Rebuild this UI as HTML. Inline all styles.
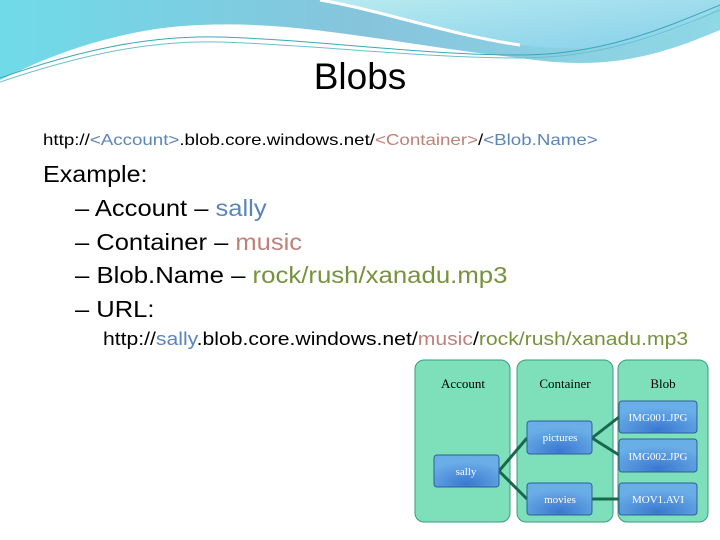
<!DOCTYPE html>
<html><head><meta charset="utf-8"><style>
body{margin:0;width:720px;height:540px;overflow:hidden;background:#fff;font-family:"Liberation Sans",sans-serif;position:relative}
.t{position:absolute;white-space:nowrap;color:#000;transform-origin:0 50%}
.b{color:#5b85bb}.r{color:#c0807a}.g{color:#77923c}
</style></head><body>
<svg width="720" height="540" style="position:absolute;left:0;top:0">
<defs>
<linearGradient id="w1" x1="0" y1="0" x2="1" y2="0"><stop offset="0" stop-color="#6fdbe8"/><stop offset="0.5" stop-color="#86c4dc"/><stop offset="1" stop-color="#8fd8e6"/></linearGradient>
<linearGradient id="w2" x1="0" y1="0" x2="1" y2="1"><stop offset="0" stop-color="#b8eaf0"/><stop offset="1" stop-color="#86d0ea"/></linearGradient>
<radialGradient id="bx" cx="0.5" cy="0.9" r="0.7"><stop offset="0" stop-color="#3a78d0"/><stop offset="1" stop-color="#6aaee8"/></radialGradient>
</defs>
<path d="M0,0 H720 V30 C650,60 600,70 520,58 C400,45 300,20 200,25 C120,28 50,55 0,80 Z" fill="url(#w1)"/>
<path d="M320,0 H720 V5 C680,40 600,55 520,45 C450,35 380,10 320,0 Z" fill="url(#w2)"/>
<path d="M320,0 C380,10 450,35 520,45" stroke="#fff" stroke-width="3" fill="none"/>
<path d="M0,78 C80,50 150,35 220,37 C320,40 420,55 520,55 C600,55 660,30 720,5" stroke="#3aa8b8" stroke-width="1" fill="none"/>
<path d="M0,82 C80,55 150,40 220,42 C320,45 420,58 520,58 C600,58 660,35 720,10" stroke="#6cc0cc" stroke-width="1" fill="none"/>
<g fill="#7ee0bb" stroke="#3a9a7c" stroke-width="1">
<rect x="415" y="360" width="95" height="162" rx="9"/>
<rect x="517" y="360" width="96" height="162" rx="9"/>
<rect x="618" y="360" width="90" height="162" rx="9"/>
</g>
<g stroke="#19684e" stroke-width="3" fill="none">
<path d="M499,471 L527,438 M499,471 L527,499 M592,438 L619,417 M592,438 L619,455 M592,499 L619,499"/>
</g>
<g fill="url(#bx)" stroke="#2d5f94" stroke-width="1">
<rect x="619" y="401" width="78" height="32" rx="3"/>
<rect x="619" y="439" width="78" height="33" rx="3"/>
<rect x="619" y="483" width="78" height="32" rx="3"/>
<rect x="527" y="421" width="65" height="33" rx="3"/>
<rect x="527" y="483" width="65" height="32" rx="3"/>
<rect x="434" y="455" width="65" height="32" rx="3"/>
</g>
<g font-family="Liberation Serif,serif" font-size="13" text-anchor="middle" fill="#000">
<text x="463" y="388">Account</text><text x="565" y="388">Container</text><text x="663" y="388">Blob</text>
</g>
<g font-family="Liberation Serif,serif" font-size="11" text-anchor="middle" fill="#fff">
<text x="658" y="421">IMG001.JPG</text><text x="658" y="460">IMG002.JPG</text><text x="658" y="503">MOV1.AVI</text>
<text x="560" y="441">pictures</text><text x="560" y="503">movies</text><text x="466" y="475">sally</text>
</g>
</svg>
<div class="t" style="left:0;width:720px;text-align:center;top:56px;font-size:37px">Blobs</div>
<div class="t" style="left:43px;top:132px;font-size:16px;transform:scaleX(1.17)">http://<span class="b">&lt;Account&gt;</span>.blob.core.windows.net/<span class="r">&lt;Container&gt;</span>/<span class="b">&lt;Blob.Name&gt;</span></div>
<div class="t" style="left:43px;top:161px;font-size:23px;transform:scaleX(1.09)">Example:</div>
<div class="t" style="left:75px;top:195px;font-size:23px;transform:scaleX(1.11)">– Account – <span class="b">sally</span></div>
<div class="t" style="left:75px;top:229px;font-size:23px;transform:scaleX(1.11)">– Container – <span class="r">music</span></div>
<div class="t" style="left:75px;top:262px;font-size:23px;transform:scaleX(1.12)">– Blob.Name – <span class="g">rock/rush/xanadu.mp3</span></div>
<div class="t" style="left:75px;top:296px;font-size:23px;transform:scaleX(1.11)">– URL:</div>
<div class="t" style="left:103px;top:329px;font-size:18px;transform:scaleX(1.175)">http://<span class="b">sally</span>.blob.core.windows.net/<span class="r">music</span>/<span class="g">rock/rush/xanadu.mp3</span></div>
</body></html>
